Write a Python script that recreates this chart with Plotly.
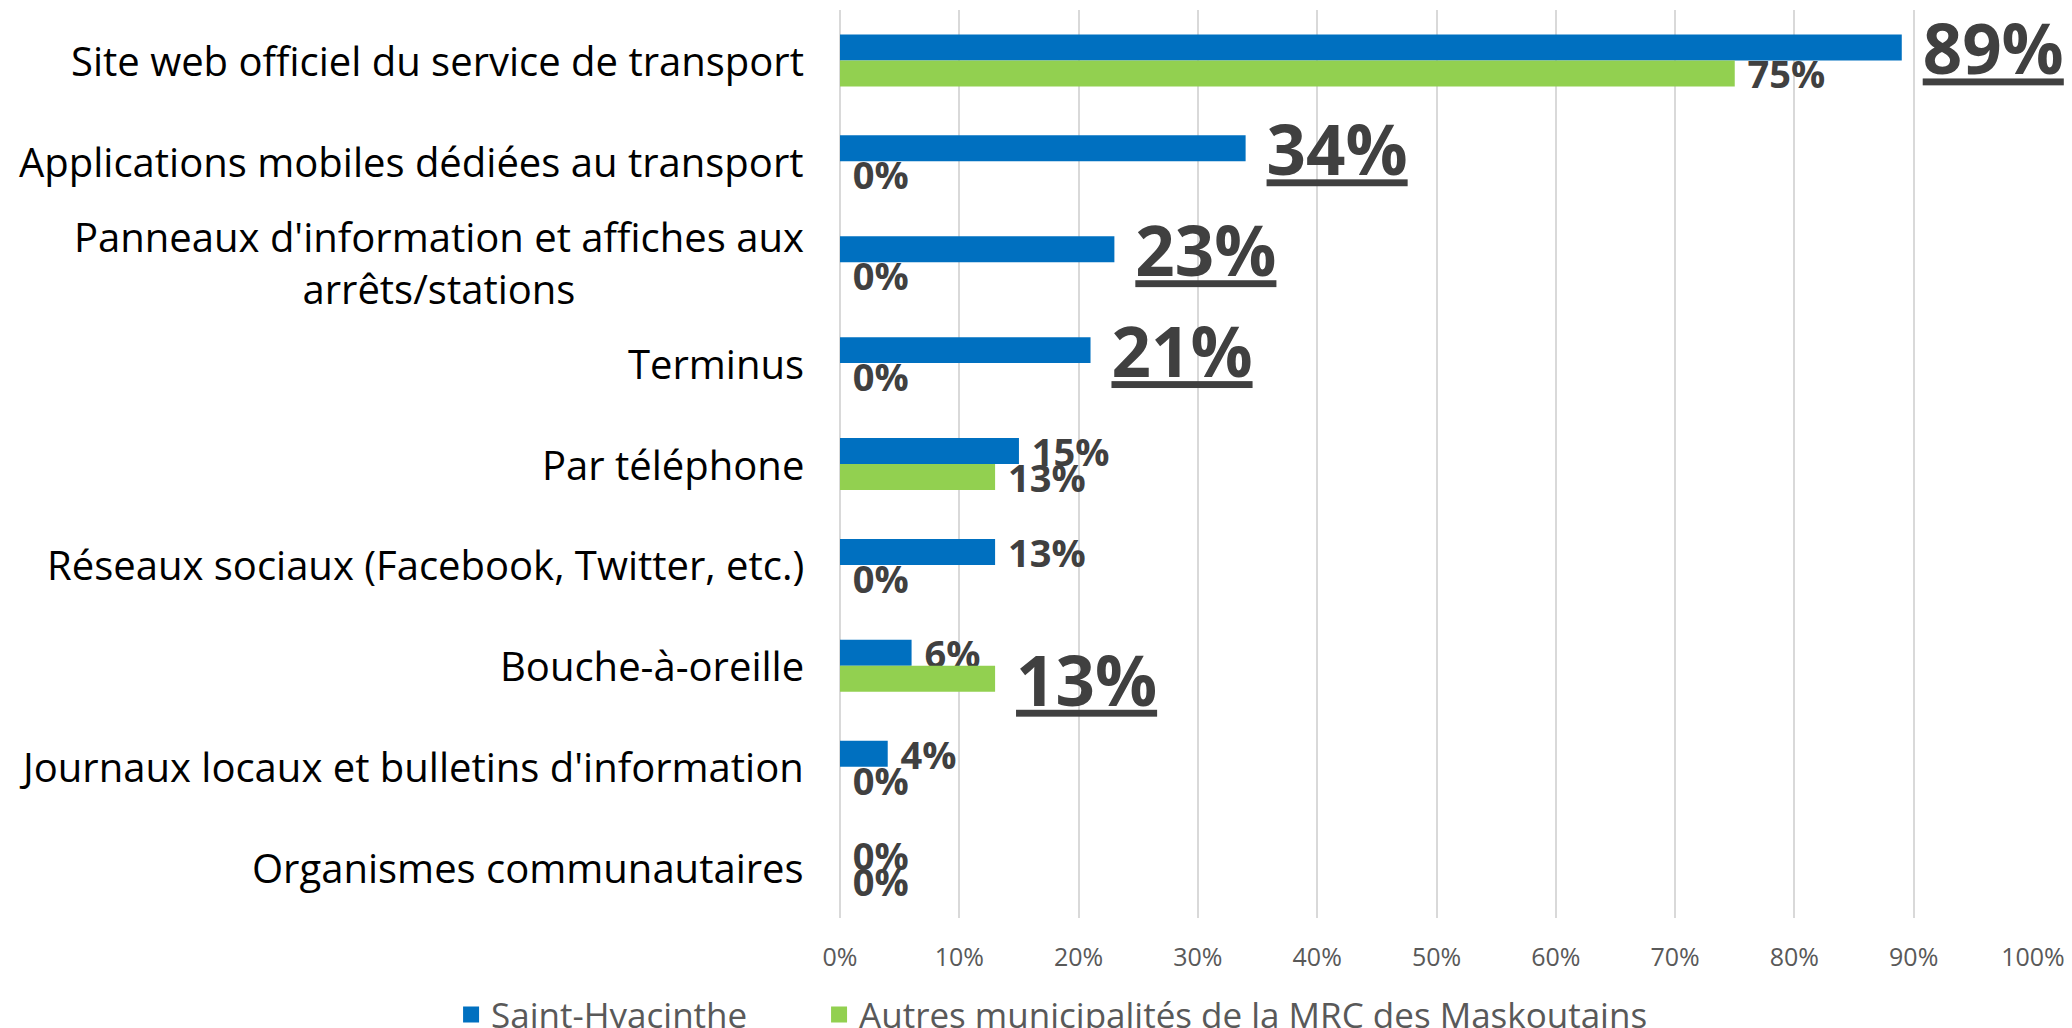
import plotly.graph_objects as go

categories = [
    "Site web officiel du service de transport",
    "Applications mobiles dédiées au transport",
    "Panneaux d'information et affiches aux<br>arrêts/stations",
    "Terminus",
    "Par téléphone",
    "Réseaux sociaux (Facebook, Twitter, etc.)",
    "Bouche-à-oreille",
    "Journaux locaux et bulletins d'information",
    "Organismes communautaires",
]
series_names = ["Saint-Hyacinthe", "Autres municipalités de la MRC des Maskoutains"]
saint_hyacinthe = [89, 34, 23, 21, 15, 13, 6, 4, 0]
autres_mrc = [75, 0, 0, 0, 13, 0, 13, 0, 0]
# emphasised (big, underlined) labels
highlight_sh = [True, True, True, True, False, False, False, False, False]
highlight_mrc = [False, False, False, False, False, False, True, False, False]
x_ticks = list(range(0, 101, 10))
x_tick_labels = [f"{t}%" for t in x_ticks]

colors = ["#0070C0", "#92D050"]
FONT = "Open Sans"
LABEL_COLOR = "#404040"

def labels(vals, hl):
    return [f"&nbsp;<u>{v}%</u>" if h else f"&nbsp;{v}%" for v, h in zip(vals, hl)]

def sizes(hl):
    return [69 if h else 38 for h in hl]

fig = go.Figure()
for name, vals, hl, col, lg in [
    (series_names[0], saint_hyacinthe, highlight_sh, colors[0], "legend"),
    (series_names[1], autres_mrc, highlight_mrc, colors[1], "legend2"),
]:
    fig.add_trace(go.Bar(
        name=name, orientation="h", y=categories, x=vals, showlegend=False,
        marker=dict(color=col, line=dict(width=0)),
        text=labels(vals, hl), textposition="outside",
        textfont=dict(family=FONT, size=sizes(hl), color=LABEL_COLOR, weight="bold"),
        cliponaxis=False, constraintext="none",
    ))
    # legend entry with a larger square swatch
    fig.add_trace(go.Scatter(
        name=name, x=[None], y=[None], mode="markers", legend=lg,
        marker=dict(symbol="square", size=16, color=col),
        hoverinfo="skip",
    ))

for c in categories:
    fig.add_annotation(
        x=0, xref="paper", y=c, yref="y", text=c, showarrow=False,
        xanchor="right", yanchor="middle", align="center", xshift=-34,
        font=dict(family=FONT, size=40, color="#000000"),
    )

legend_style = dict(
    orientation="h", xref="container", xanchor="left",
    yref="container", y=0.013, yanchor="middle",
    font=dict(family=FONT, size=35, color="#595959"),
    itemsizing="trace", bgcolor="rgba(0,0,0,0)",
)

fig.update_layout(
    width=2072, height=1028,
    margin=dict(l=840, r=39, t=10, b=110, autoexpand=False),
    paper_bgcolor="white", plot_bgcolor="white",
    barmode="group", bargap=0.485, bargroupgap=0,
    font=dict(family=FONT, color="#595959"),
    showlegend=True,
    legend=dict(x=0.2177, **legend_style),
    legend2=dict(x=0.3953, **legend_style),
    xaxis=dict(
        range=[0, 100], tickmode="array", tickvals=x_ticks, ticktext=x_tick_labels,
        showgrid=True, gridcolor="#D9D9D9", gridwidth=2,
        zeroline=True, zerolinecolor="#D9D9D9", zerolinewidth=2,
        showline=False, ticks="", ticklabelstandoff=22,
        tickfont=dict(family=FONT, size=25, color="#595959"),
    ),
    yaxis=dict(
        autorange="reversed", showticklabels=False, showgrid=False,
        zeroline=False, showline=False, ticks="",
    ),
)

fig.write_html(
    "out.html",
    config={"displayModeBar": False},
    post_script="document.body.style.margin='0px';document.body.style.overflow='hidden';",
)
